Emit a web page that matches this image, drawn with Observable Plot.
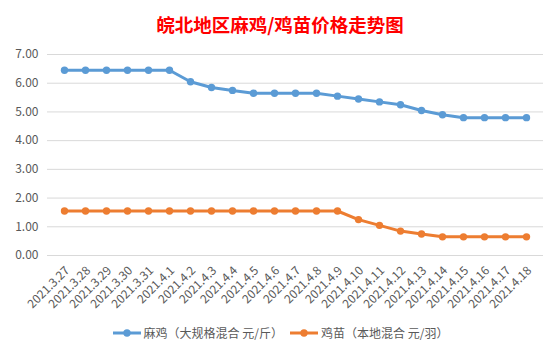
<!DOCTYPE html>
<html>
<head>
<meta charset="utf-8">
<script src="https://cdn.jsdelivr.net/npm/d3@7"></script>
<script src="https://cdn.jsdelivr.net/npm/@observablehq/plot@0.6"></script>
<style>
  body { margin: 0; background: #fff; }
  #chart { position: relative; width: 560px; height: 355px; background: #fff; overflow: hidden;
           font-family: "Noto Sans CJK SC", "Noto Sans", sans-serif; }
  #title { position: absolute; left: 0; top: 11px; width: 560px; text-align: center; color: #ff0000;
           font-size: 18.5px; font-weight: bold; line-height: 26px; font-family: "Noto Sans CJK SC", serif; }
  #plot { position: absolute; left: 0; top: 35px; }
  #legend { position: absolute; left: 0; top: 323px; width: 560px; display: flex; justify-content: center;
            align-items: center; font-size: 12px; color: #595959; line-height: 20px; }
  .item { display: flex; align-items: center; margin: 0 3px; }
  .item svg { margin-right: 2px; }
</style>
</head>
<body>
<div id="chart">
  <div id="title"></div>
  <div id="plot"></div>
  <div id="legend"></div>
</div>
<script>
const titleText = "皖北地区麻鸡/鸡苗价格走势图";
const dates = ["2021.3.27","2021.3.28","2021.3.29","2021.3.30","2021.3.31","2021.4.1","2021.4.2","2021.4.3","2021.4.4","2021.4.5","2021.4.6","2021.4.7","2021.4.8","2021.4.9","2021.4.10","2021.4.11","2021.4.12","2021.4.13","2021.4.14","2021.4.15","2021.4.16","2021.4.17","2021.4.18"];
const seriesNames = ["麻鸡（大规格混合 元/斤）", "鸡苗（本地混合 元/羽）"];
const maji = [6.45,6.45,6.45,6.45,6.45,6.45,6.05,5.85,5.75,5.65,5.65,5.65,5.65,5.55,5.45,5.35,5.25,5.05,4.9,4.8,4.8,4.8,4.8];
const jimiao = [1.55,1.55,1.55,1.55,1.55,1.55,1.55,1.55,1.55,1.55,1.55,1.55,1.55,1.55,1.25,1.05,0.85,0.75,0.65,0.65,0.65,0.65,0.65];
const yTicks = [0,1,2,3,4,5,6,7];
const colors = ["#5B9BD5", "#ED7D31"];

const data = [];
[maji, jimiao].forEach((vals, s) => vals.forEach((v, i) => data.push({date: dates[i], value: v, series: seriesNames[s]})));

document.getElementById("title").textContent = titleText;

const chart = Plot.plot({
  width: 560,
  height: 275,
  marginLeft: 47,
  marginRight: 17,
  marginTop: 19,
  marginBottom: 55,
  style: { fontFamily: "'Noto Sans CJK SC', 'Noto Sans', sans-serif", background: "transparent" },
  x: { type: "point", domain: dates, padding: 0.5, label: null },
  y: { domain: [0, 7], label: null },
  color: { domain: seriesNames, range: colors },
  marks: [
    Plot.ruleY(yTicks, { stroke: "#d9d9d9", strokeWidth: 1 }),
    Plot.axisY({ ticks: yTicks, tickSize: 0, tickPadding: 9, tickFormat: d => d.toFixed(2), fill: "#595959", fontSize: 12, label: null }),
    Plot.axisX({ tickRotate: -45, tickSize: 0, tickPadding: 13, dx: 3, fill: "#595959", fontSize: 12, label: null }),
    Plot.lineY(data, { x: "date", y: "value", z: "series", stroke: "series", strokeWidth: 3 }),
    Plot.dot(data, { x: "date", y: "value", fill: "series", r: 3.7 })
  ]
});
document.getElementById("plot").appendChild(chart);

const legend = document.getElementById("legend");
seriesNames.forEach((name, i) => {
  const item = document.createElement("div");
  item.className = "item";
  item.innerHTML = `<svg width="30" height="10"><line x1="1" x2="29" y1="5" y2="5" stroke="${colors[i]}" stroke-width="3"/><circle cx="15" cy="5" r="3.7" fill="${colors[i]}"/></svg><span>${name}</span>`;
  legend.appendChild(item);
});
</script>
</body>
</html>
